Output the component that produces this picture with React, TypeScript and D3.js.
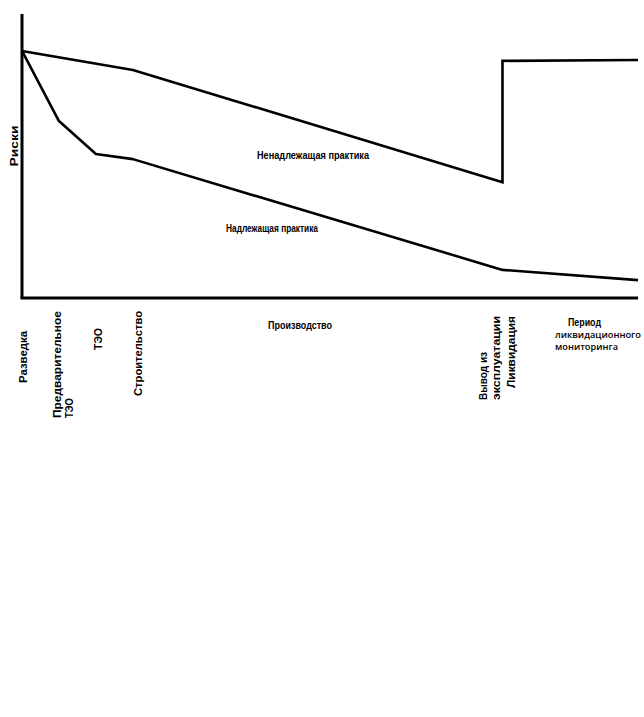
import React from 'react';
import * as d3 from 'd3';

// ---- Data ----
const stages = [
  'Разведка',
  'Предварительное ТЭО',
  'ТЭО',
  'Строительство',
  'Производство',
  'Вывод из эксплуатации',
  'Ликвидация',
  'Период ликвидационного мониторинга',
];
const seriesNames = ['Ненадлежащая практика', 'Надлежащая практика'];
const yAxisTitle = 'Риски';

// time (0..100) and risk (0..100)
const poorTime = [0, 18, 78, 78, 100];
const poorRisk = [87, 80.3, 40.8, 83.5, 83.8];
const goodTime = [0, 6, 12, 18, 78, 100];
const goodRisk = [87, 62.3, 50.7, 48.9, 9.9, 6.3];

// ---- Layout (positions of labels) ----
type VLabel = { stage: number; lines: string[]; baseX: number[]; bottom: number; len: number[] };
const verticalLabels: VLabel[] = [
  { stage: 0, lines: ['Разведка'], baseX: [26.5], bottom: 383, len: [52] },
  { stage: 1, lines: ['Предварительное', 'ТЭО'], baseX: [60.5, 72.5], bottom: 418, len: [107, 20] },
  { stage: 2, lines: ['ТЭО'], baseX: [102], bottom: 350, len: [22] },
  { stage: 3, lines: ['Строительство'], baseX: [142], bottom: 396, len: [85] },
  { stage: 5, lines: ['Вывод из', 'эксплуатации'], baseX: [487, 499.5], bottom: 400, len: [48, 84] },
  { stage: 6, lines: ['Ликвидация'], baseX: [514.5], bottom: 388, len: [72] },
];

const W = 644;
const H = 717;

export default function App() {
  const x = d3.scaleLinear().domain([0, 100]).range([22, 638]);
  const y = d3.scaleLinear().domain([0, 100]).range([298, 14]);

  const line = d3
    .line<[number, number]>()
    .x((d) => x(d[0]))
    .y((d) => y(d[1]));

  const poor: [number, number][] = poorTime.map((t, i) => [t, poorRisk[i]]);
  const good: [number, number][] = goodTime.map((t, i) => [t, goodRisk[i]]);

  const boldFont = "'Liberation Sans', Arial, sans-serif";
  const monWords = stages[7].split(' ');

  return (
    <svg
      width={W}
      height={H}
      style={{ position: 'absolute', left: 0, top: 0, background: '#fff' }}
    >
      <rect x={0} y={0} width={W} height={H} fill="#fff" />
      {/* axes */}
      <line x1={x(0)} x2={x(0)} y1={y(100)} y2={y(0)} stroke="#000" strokeWidth={3} />
      <line x1={x(0) - 1.5} x2={x(100)} y1={y(0)} y2={y(0)} stroke="#000" strokeWidth={3} />

      {/* series */}
      <path d={line(poor) || ''} fill="none" stroke="#000" strokeWidth={2.6} strokeLinejoin="miter" />
      <path d={line(good) || ''} fill="none" stroke="#000" strokeWidth={2.6} strokeLinejoin="round" />

      {/* series labels */}
      <text
        x={257}
        y={159}
        fontFamily={boldFont}
        fontWeight="bold"
        fontSize={10}
        textLength={112}
        lengthAdjust="spacingAndGlyphs"
        fill="#000"
      >
        {seriesNames[0]}
      </text>
      <text
        x={226}
        y={232}
        fontFamily={boldFont}
        fontWeight="bold"
        fontSize={10}
        textLength={92}
        lengthAdjust="spacingAndGlyphs"
        fill="#000"
      >
        {seriesNames[1]}
      </text>

      {/* y axis title */}
      <text
        transform={`translate(18,146) rotate(-90)`}
        textAnchor="middle"
        fontFamily={boldFont}
        fontWeight="bold"
        fontSize={11}
        textLength={41}
        lengthAdjust="spacingAndGlyphs"
        fill="#000"
      >
        {yAxisTitle}
      </text>

      {/* vertical stage labels */}
      {verticalLabels.map((lab, i) =>
        lab.lines.map((ln, j) => (
          <text
            key={`${i}-${j}`}
            transform={`translate(${lab.baseX[j]},${lab.bottom}) rotate(-90)`}
            fontFamily={boldFont}
            fontWeight="bold"
            fontSize={10}
            textLength={lab.len[j]}
            lengthAdjust="spacingAndGlyphs"
            fill="#000"
          >
            {ln}
          </text>
        ))
      )}

      {/* horizontal stage labels */}
      <text
        x={268}
        y={329}
        fontFamily={boldFont}
        fontWeight="bold"
        fontSize={10}
        textLength={64}
        lengthAdjust="spacingAndGlyphs"
        fill="#000"
      >
        {stages[4]}
      </text>
      <text
        x={568}
        y={326}
        fontFamily={boldFont}
        fontWeight="bold"
        fontSize={10.5}
        textLength={33}
        lengthAdjust="spacingAndGlyphs"
        fill="#000"
      >
        {monWords[0]}
      </text>
      <text
        x={555}
        y={338}
        fontFamily="'Open Sans', sans-serif"
        fontWeight={600}
        fontSize={9}
        textLength={86}
        lengthAdjust="spacingAndGlyphs"
        fill="#000"
      >
        {monWords[1]}
      </text>
      <text
        x={555}
        y={350}
        fontFamily="'Open Sans', sans-serif"
        fontWeight={600}
        fontSize={9}
        textLength={63}
        lengthAdjust="spacingAndGlyphs"
        fill="#000"
      >
        {monWords[2]}
      </text>
    </svg>
  );
}
